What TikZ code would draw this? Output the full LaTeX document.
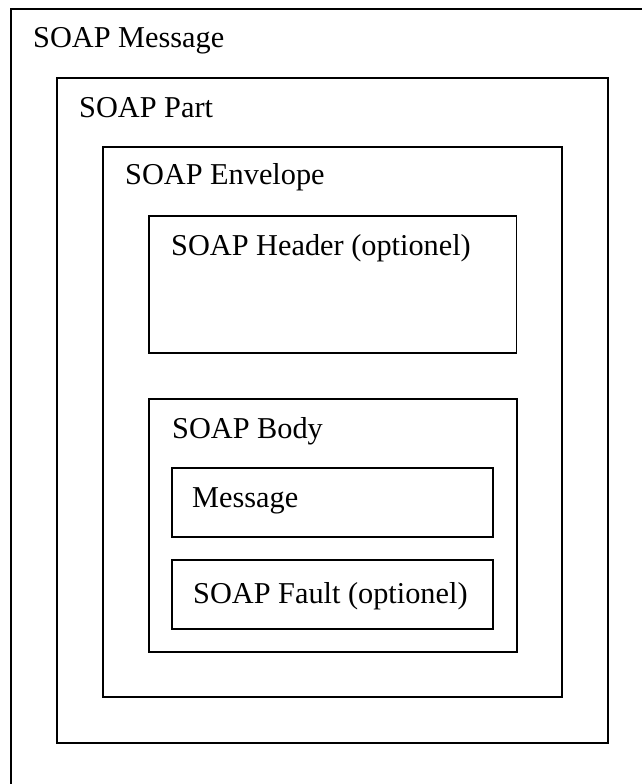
\documentclass[tikz,border=0pt]{standalone}
\usepackage{fontspec}
\setmainfont{Liberation Serif}
\begin{document}
\begin{tikzpicture}[x=1pt,y=-1pt,
  boxline/.style={draw=black,line width=1.6pt},
  lbl/.style={anchor=base west,inner sep=0pt,font=\fontsize{30.3}{33}\selectfont}]
\useasboundingbox (0,0) rectangle (642,784);
\clip (0,0) rectangle (642,784);
\fill[white] (0,0) rectangle (642,784);
% boxes
\draw[boxline] (11,9) rectangle (680,830);
\draw[boxline] (57,78) rectangle (608,743);
\draw[boxline] (103,147) rectangle (562,697);
\draw[boxline] (149,216) rectangle (516.5,353);
\draw[boxline] (149,399) rectangle (517,652);
\draw[boxline] (172,468) rectangle (493,537);
\draw[boxline] (172,560) rectangle (493,629);
% labels
\node[lbl] (msg) at (33,48) {SOAP Message};
\node[lbl] (part) at (79,117) {SOAP Part};
\node[lbl] (env) at (125,184) {SOAP Envelope};
\node[lbl] (hdr) at (171,255) {SOAP Header (optionel)};
\node[lbl] (body) at (172,438) {SOAP Body};
\node[lbl] (bmsg) at (192,507) {Message};
\node[lbl] (fault) at (193,603) {SOAP Fault (optionel)};
\end{tikzpicture}
\end{document}
